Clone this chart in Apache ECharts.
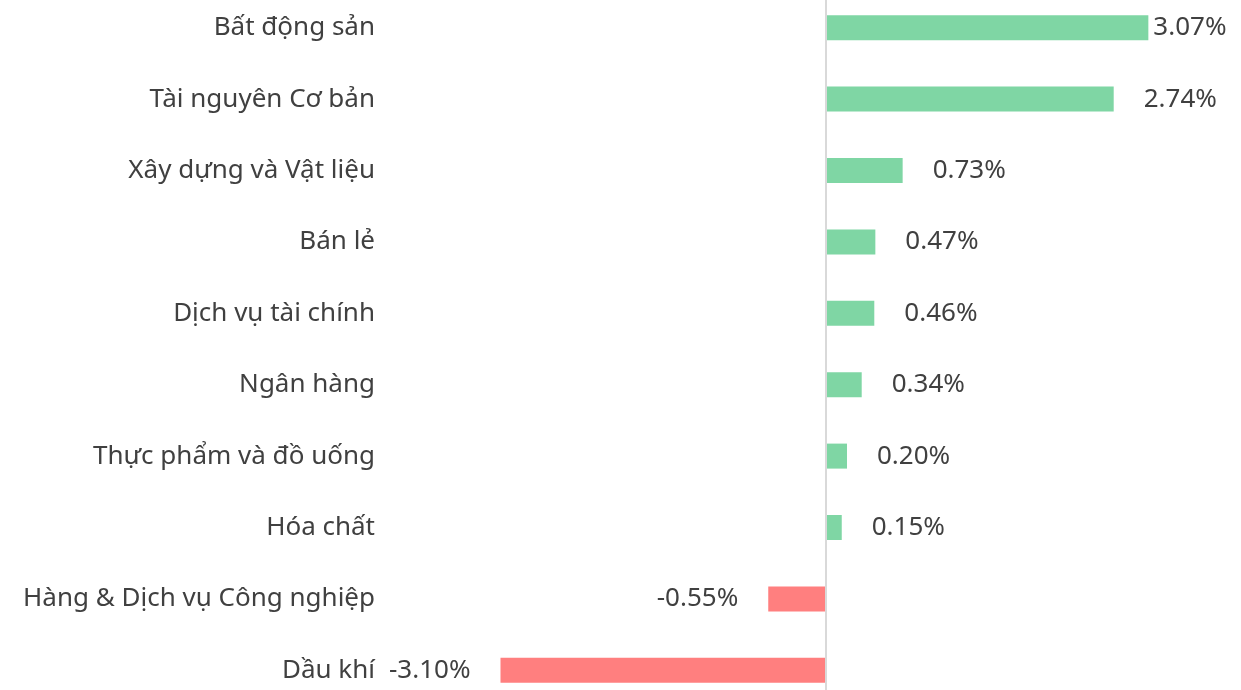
<!DOCTYPE html>
<html>
<head>
<meta charset="utf-8">
<script src="https://cdn.jsdelivr.net/npm/echarts@6/dist/echarts.min.js"></script>
<style>
  html, body { margin: 0; padding: 0; background: #fff; overflow: hidden; }
  .demo { width: 1241px; height: 714px; margin-top: -8px; }
</style>
</head>
<body>
<div class="demo"></div>
<script>
const categories = ['Bất động sản', 'Tài nguyên Cơ bản', 'Xây dựng và Vật liệu', 'Bán lẻ', 'Dịch vụ tài chính',
  'Ngân hàng', 'Thực phẩm và đồ uống', 'Hóa chất', 'Hàng & Dịch vụ Công nghiệp', 'Dầu khí']
const values = [3.07, 2.74, 0.73, 0.47, 0.46, 0.34, 0.20, 0.15, -0.55, -3.10]

const green = '#7fd6a4'
const red = '#ff7f7f'
const textColor = '#404040'
const font = 'Noto Sans'

let myChart = echarts.init(document.querySelector('.demo'))

let barData = values.map((v, i) => ({
  value: v,
  itemStyle: { color: v >= 0 ? green : red },
  label: {
    position: v >= 0 ? 'right' : 'left',
    distance: i === 0 ? 5 : 30
  }
}))

let option = {
  animation: false,
  grid: { left: 406, right: 47.5, top: 0, bottom: 0 },
  xAxis: {
    type: 'value',
    min: -4,
    max: 3.5,
    show: false
  },
  yAxis: {
    type: 'category',
    inverse: true,
    data: categories,
    axisLine: { show: false },
    axisTick: { show: false },
    axisLabel: {
      margin: 31,
      color: textColor,
      fontFamily: font,
      fontSize: 26
    }
  },
  series: [
    {
      type: 'bar',
      barWidth: 25,
      data: barData,
      label: {
        show: true,
        color: textColor,
        fontFamily: font,
        fontSize: 26,
        formatter: p => p.value.toFixed(2) + '%'
      },
      markLine: {
        silent: true,
        symbol: 'none',
        label: { show: false },
        lineStyle: { color: '#d9d9d9', width: 2, type: 'solid' },
        data: [{ xAxis: 0 }]
      }
    }
  ]
}

myChart.setOption(option)
</script>
</body>
</html>
